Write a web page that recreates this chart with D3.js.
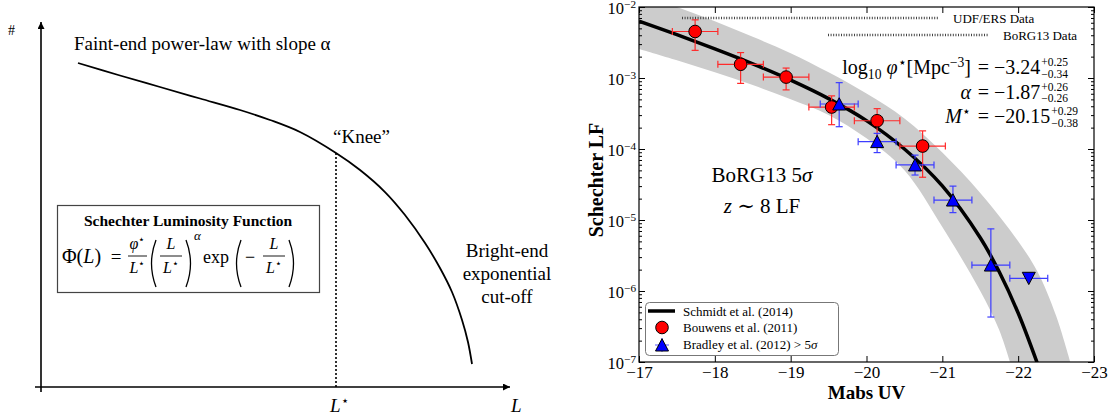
<!DOCTYPE html>
<html>
<head>
<meta charset="utf-8">
<script src="https://cdn.jsdelivr.net/npm/d3@7"></script>
<style>
body { margin: 0; background: #fff; }
svg { display: block; font-family: "Liberation Serif", "DejaVu Serif", serif; }
text { white-space: pre; }
</style>
</head>
<body>
<div id="chart"></div>
<script>
// ---- left sketch: hand-drawn Schechter shape, in 0-100 "units" on both axes
var sketchL = [7.89, 16.84, 25.37, 33.90, 42.43, 48.83, 55.22, 62.90, 68.02, 73.35, 77.61, 81.88, 85.07, 87.63, 89.77, 91.04, 91.90];
var sketchN = [88.77, 85.34, 82.19, 79.04, 75.89, 73.15, 69.86, 64.11, 59.45, 53.42, 47.12, 39.45, 32.60, 26.03, 18.36, 12.33, 6.30];
var kneeL = 62.90;
var kneeN = 64.11;

// ---- right plot: Schmidt et al. (2014) fit and its band (log10 phi)
var fitM = [-17, -17.5, -18, -18.5, -19, -19.5, -20, -20.5, -21, -21.5, -21.75, -22, -22.25];
var fitLogPhi = [-2.20, -2.39, -2.59, -2.80, -3.03, -3.29, -3.60, -4.00, -4.52, -5.25, -5.73, -6.31, -7.01];
var bandUpM = [-17, -17.5, -18, -18.5, -19, -19.5, -20, -20.5, -21, -21.5, -22, -22.25, -22.5, -22.7];
var bandUpLog = [-1.80, -2.00, -2.20, -2.42, -2.65, -2.92, -3.22, -3.57, -4.05, -4.62, -5.30, -5.72, -6.35, -7.05];
var bandLoM = [-17, -17.5, -18, -18.5, -19, -19.5, -20, -20.5, -21, -21.5, -21.75, -21.92];
var bandLoLog = [-2.59, -2.75, -2.92, -3.10, -3.30, -3.52, -3.85, -4.30, -5.10, -6.00, -6.55, -7.10];

// Bouwens et al. (2011)
var bouwensM = [-17.74, -18.34, -18.94, -19.54, -20.14, -20.74];
var bouwensPhi = [4.52e-3, 1.56e-3, 1.03e-3, 3.9e-4, 2.5e-4, 1.1e-4];
var bouwensErr = [2.07e-3, 0.72e-3, 0.35e-3, 1.7e-4, 1.2e-4, 0.7e-4];
var bouwensMErr = 0.3;

// Bradley et al. (2012)
var bradleyM = [-19.64, -20.14, -20.64, -21.14, -21.64];
var bradleyPhi = [4.3e-4, 1.27e-4, 5.96e-5, 1.91e-5, 2.32e-6];
var bradleyHi = [8.6e-4, 1.66e-4, 8.2e-5, 3.0e-5, 7.5e-6];
var bradleyLo = [2.06e-4, 8.9e-5, 4.3e-5, 1.27e-5, 4.3e-7];
var bradleyLimM = [-22.14];
var bradleyLimPhi = [1.51e-6];
var bradleyMErr = 0.25;

var xTicks = [-17, -18, -19, -20, -21, -22, -23];
var yTicks = [1e-7, 1e-6, 1e-5, 1e-4, 1e-3, 1e-2];

var W = 1113, H = 416;
var svg = d3.select("#chart").append("svg").attr("width", W).attr("height", H);
var defs = svg.append("defs");

defs.append("marker").attr("id", "arr")
    .attr("viewBox", "0 0 10 10").attr("refX", 10).attr("refY", 5)
    .attr("markerWidth", 9).attr("markerHeight", 7)
    .attr("markerUnits", "userSpaceOnUse").attr("orient", "auto")
    .append("path").attr("d", "M0,0 L10,5 L0,10 z").attr("fill", "#000");

// helper for text with italic / sup / sub pieces
function mathText(g, x, y, parts, size, anchor) {
    var t = g.append("text").attr("x", x).attr("y", y)
        .attr("font-size", size).attr("text-anchor", anchor || "start");
    var shift = 0;
    parts.forEach(function (p) {
        var s = t.append("tspan").text(p.t);
        var target = p.sup ? -0.36 * size : p.sub ? 0.25 * size : 0;
        if (target !== shift) { s.attr("dy", target - shift); shift = target; }
        if (p.sup || p.sub) s.attr("font-size", size * 0.68);
        if (p.i) s.attr("font-style", "italic");
    });
    return t;
}

// ================= LEFT PANEL =================
var xs = d3.scaleLinear().domain([0, 100]).range([41, 510]);
var ys = d3.scaleLinear().domain([0, 100]).range([387, 22]);
var left = svg.append("g");

left.append("line").attr("x1", xs(0)).attr("y1", 392).attr("x2", xs(0)).attr("y2", ys(100))
    .attr("stroke", "#000").attr("stroke-width", 1.6).attr("marker-end", "url(#arr)");
left.append("line").attr("x1", 35).attr("y1", ys(0)).attr("x2", xs(100)).attr("y2", ys(0))
    .attr("stroke", "#000").attr("stroke-width", 1.6).attr("marker-end", "url(#arr)");

var sketch = d3.line()
    .x(function (d) { return xs(d[0]); })
    .y(function (d) { return ys(d[1]); })
    .curve(d3.curveCatmullRom);
left.append("path").datum(d3.zip(sketchL, sketchN))
    .attr("d", sketch).attr("fill", "none").attr("stroke", "#000").attr("stroke-width", 1.8);

left.append("line").attr("x1", xs(kneeL)).attr("x2", xs(kneeL))
    .attr("y1", ys(kneeN)).attr("y2", ys(0))
    .attr("stroke", "#000").attr("stroke-width", 1.6).attr("stroke-dasharray", "2,2");

left.append("text").attr("x", 8).attr("y", 35).attr("font-size", 14).text("#");
mathText(left, 74, 50, [{ t: "Faint-end power-law with slope α" }], 19);
left.append("text").attr("x", 333).attr("y", 143).attr("font-size", 19).text("\u201cKnee\u201d");
mathText(left, 330, 412, [{ t: "L", i: 1 }, { t: "⋆", sup: 1 }], 19);
mathText(left, 511, 412, [{ t: "L", i: 1 }], 19);
["Bright-end", "exponential", "cut-off"].forEach(function (s, i) {
    left.append("text").attr("x", 507).attr("y", 257 + i * 23)
        .attr("font-size", 19).attr("text-anchor", "middle").text(s);
});

// formula box
left.append("rect").attr("x", 57.5).attr("y", 205.5).attr("width", 262).attr("height", 87)
    .attr("fill", "#fff").attr("stroke", "#444").attr("stroke-width", 1.2);
left.append("text").attr("x", 188).attr("y", 226).attr("font-size", 15.5)
    .attr("font-weight", "bold").attr("text-anchor", "middle").text("Schechter Luminosity Function");

mathText(left, 62, 263, [{ t: "Φ(" }, { t: "L", i: 1 }, { t: ")" }], 20);
left.append("text").attr("x", 116).attr("y", 263).attr("font-size", 19)
    .attr("text-anchor", "middle").text("=");
function frac(cx, x0, x1, num, den) {
    mathText(left, cx, 249, num, 16, "middle");
    left.append("line").attr("x1", x0).attr("x2", x1).attr("y1", 256).attr("y2", 256)
        .attr("stroke", "#000").attr("stroke-width", 0.9);
    mathText(left, cx, 273, den, 16, "middle");
}
var Lstar = [{ t: "L", i: 1 }, { t: "⋆", sup: 1 }];
frac(137.5, 128, 147, [{ t: "φ", i: 1 }, { t: "⋆", sup: 1 }], Lstar);
frac(171, 160, 182, [{ t: "L", i: 1 }], Lstar);
frac(274, 263, 285, [{ t: "L", i: 1 }], Lstar);
function paren(x, open) {
    var d = open ? "M" + (x + 6) + ",240 Q" + (x - 3) + ",263.5 " + (x + 6) + ",287"
                 : "M" + x + ",240 Q" + (x + 9) + ",263.5 " + x + ",287";
    left.append("path").attr("d", d).attr("fill", "none").attr("stroke", "#000").attr("stroke-width", 1.3);
}
paren(150, true); paren(186, false); paren(235, true); paren(289, false);
mathText(left, 194, 240, [{ t: "α", i: 1 }], 13);
mathText(left, 203, 263, [{ t: "exp" }], 18);
mathText(left, 245, 263, [{ t: "−" }], 18);

// ================= RIGHT PANEL =================
var x = d3.scaleLinear().domain([-17, -23]).range([639, 1094]);
var y = d3.scaleLog().domain([1e-7, 1e-2]).range([362, 7]);
var right = svg.append("g");

defs.append("clipPath").attr("id", "plotclip").append("rect")
    .attr("x", 639).attr("y", 7).attr("width", 455).attr("height", 355);
var plot = right.append("g").attr("clip-path", "url(#plotclip)");

var logLine = d3.line()
    .x(function (d) { return x(d[0]); })
    .y(function (d) { return y(Math.pow(10, d[1])); })
    .curve(d3.curveCatmullRom);

var upPath = logLine(d3.zip(bandUpM, bandUpLog));
var loPath = logLine(d3.zip(bandLoM, bandLoLog).reverse());
plot.append("path").attr("d", upPath + "L" + loPath.slice(1) + "Z")
    .attr("fill", "#cccccc").attr("stroke", "none");

plot.append("path").datum(d3.zip(fitM, fitLogPhi)).attr("d", logLine)
    .attr("fill", "none").attr("stroke", "#000").attr("stroke-width", 3.5);

function errBar(g, m, merr, phi, lo, hi) {
    var cy = y(phi), xl = x(m + merr), xr = x(m - merr);
    g.append("line").attr("x1", xl).attr("x2", xr).attr("y1", cy).attr("y2", cy);
    g.append("line").attr("x1", xl).attr("x2", xl).attr("y1", cy - 3.5).attr("y2", cy + 3.5);
    g.append("line").attr("x1", xr).attr("x2", xr).attr("y1", cy - 3.5).attr("y2", cy + 3.5);
    if (lo != null) {
        var cx = x(m), yt = y(hi), yb = y(lo);
        g.append("line").attr("x1", cx).attr("x2", cx).attr("y1", yt).attr("y2", yb);
        g.append("line").attr("x1", cx - 3.5).attr("x2", cx + 3.5).attr("y1", yt).attr("y2", yt);
        g.append("line").attr("x1", cx - 3.5).attr("x2", cx + 3.5).attr("y1", yb).attr("y2", yb);
    }
}

var redErr = plot.append("g").attr("stroke", "#ff2a2a").attr("stroke-width", 1.2);
bouwensM.forEach(function (m, i) {
    errBar(redErr, m, bouwensMErr, bouwensPhi[i], bouwensPhi[i] - bouwensErr[i], bouwensPhi[i] + bouwensErr[i]);
});
var blueErr = plot.append("g").attr("stroke", "#3d3dff").attr("stroke-width", 1.2);
bradleyM.forEach(function (m, i) {
    errBar(blueErr, m, bradleyMErr, bradleyPhi[i], bradleyLo[i], bradleyHi[i]);
});
bradleyLimM.forEach(function (m, i) {
    errBar(blueErr, m, bradleyMErr, bradleyLimPhi[i], null, null);
});

plot.selectAll(".bouwens").data(d3.zip(bouwensM, bouwensPhi)).enter().append("circle")
    .attr("cx", function (d) { return x(d[0]); })
    .attr("cy", function (d) { return y(d[1]); })
    .attr("r", 6.3).attr("fill", "#ff0000").attr("stroke", "#000").attr("stroke-width", 1);

var triUp = "M0,-6.3 L6.5,6 L-6.5,6 Z";
var triDown = "M0,6.3 L6.5,-6 L-6.5,-6 Z";
plot.selectAll(".bradley").data(d3.zip(bradleyM, bradleyPhi)).enter().append("path")
    .attr("d", triUp)
    .attr("transform", function (d) { return "translate(" + x(d[0]) + "," + y(d[1]) + ")"; })
    .attr("fill", "#0000ff").attr("stroke", "#000").attr("stroke-width", 1);
plot.selectAll(".limit").data(d3.zip(bradleyLimM, bradleyLimPhi)).enter().append("path")
    .attr("d", triDown)
    .attr("transform", function (d) { return "translate(" + x(d[0]) + "," + y(d[1]) + ")"; })
    .attr("fill", "#0000ff").attr("stroke", "#000").attr("stroke-width", 1);

// axes
function styleAxis(g) {
    g.select(".domain").remove();
    g.selectAll(".tick line").attr("stroke", "#000").attr("stroke-width", 1);
    g.selectAll("text").attr("font-family", "Liberation Serif, DejaVu Serif, serif").attr("fill", "#000");
}
var minorY = [];
yTicks.slice(0, -1).forEach(function (t) {
    for (var k = 2; k < 10; k++) minorY.push(t * k);
});

right.append("g").attr("transform", "translate(0,362)")
    .call(d3.axisBottom(x).tickValues(xTicks).tickSizeInner(-6).tickSizeOuter(0).tickPadding(4)
        .tickFormat(d3.format("d")))
    .call(styleAxis)
    .selectAll("text").attr("font-size", 17);
right.append("g").attr("transform", "translate(0,7)")
    .call(d3.axisTop(x).tickValues(xTicks).tickSizeInner(-6).tickSizeOuter(0).tickFormat(""))
    .call(styleAxis);
[[639, d3.axisLeft], [1094, d3.axisRight]].forEach(function (a) {
    right.append("g").attr("transform", "translate(" + a[0] + ",0)")
        .call(a[1](y).tickValues(yTicks).tickSizeInner(-6).tickSizeOuter(0).tickFormat(""))
        .call(styleAxis);
    right.append("g").attr("transform", "translate(" + a[0] + ",0)")
        .call(a[1](y).tickValues(minorY).tickSizeInner(-3).tickSizeOuter(0).tickFormat(""))
        .call(styleAxis);
});
right.append("rect").attr("x", 639).attr("y", 7).attr("width", 455).attr("height", 355)
    .attr("fill", "none").attr("stroke", "#000").attr("stroke-width", 1.2);

yTicks.forEach(function (t) {
    var e = Math.round(Math.log10(t));
    mathText(right, 636, y(t) + 6.5, [{ t: "10" }, { t: "−" + Math.abs(e), sup: 1 }], 16.5, "end");
});

right.append("text").attr("transform", "translate(603,180) rotate(-90)")
    .attr("text-anchor", "middle").attr("font-size", 20).attr("font-weight", "bold").text("Schechter LF");
right.append("text").attr("x", 866.5).attr("y", 399).attr("text-anchor", "middle")
    .attr("font-size", 19).attr("font-weight", "bold").text("Mabs UV");

// dotted data-range markers
right.append("line").attr("x1", 682).attr("x2", 938).attr("y1", 18).attr("y2", 18)
    .attr("stroke", "#444").attr("stroke-width", 2.6).attr("stroke-dasharray", "1,1.6");
right.append("text").attr("x", 953).attr("y", 22.5).attr("font-size", 13).text("UDF/ERS Data");
right.append("line").attr("x1", 828).attr("x2", 988).attr("y1", 35).attr("y2", 35)
    .attr("stroke", "#444").attr("stroke-width", 2.6).attr("stroke-dasharray", "1,1.6");
right.append("text").attr("x", 1003).attr("y", 39.5).attr("font-size", 13).text("BoRG13 Data");

// fit parameters
var paramLabels = [
    [{ t: "log" }, { t: "10", sub: 1 }, { t: " " }, { t: "φ", i: 1 }, { t: "⋆", sup: 1 }, { t: "[Mpc" }, { t: "−3", sup: 1 }, { t: "]" }],
    [{ t: "α", i: 1 }],
    [{ t: "M", i: 1 }, { t: "⋆", sup: 1 }]
];
var paramValues = ["−3.24", "−1.87", "−20.15"];
var paramUp = ["+0.25", "+0.26", "+0.29"];
var paramDown = ["−0.34", "−0.26", "−0.38"];
var paramBase = [74, 98.5, 123];
paramLabels.forEach(function (lhs, i) {
    var yb = paramBase[i];
    mathText(right, 971, yb, lhs, 20, "end");
    right.append("text").attr("x", 983.5).attr("y", yb).attr("font-size", 20)
        .attr("text-anchor", "middle").text("=");
    var v = right.append("text").attr("x", 994).attr("y", yb).attr("font-size", 20).text(paramValues[i]);
    var xe = 994 + v.node().getComputedTextLength() + 1;
    right.append("text").attr("x", xe).attr("y", yb - 8).attr("font-size", 11.5).text(paramUp[i]);
    right.append("text").attr("x", xe).attr("y", yb + 3.5).attr("font-size", 11.5).text(paramDown[i]);
});

mathText(right, 762, 182, [{ t: "BoRG13 5" }, { t: "σ", i: 1 }], 21, "middle");
mathText(right, 762, 213, [{ t: "z", i: 1 }, { t: " ∼ 8 LF" }], 21, "middle");

// legend
var lg = right.append("g");
lg.append("rect").attr("x", 645.5).attr("y", 302.5).attr("width", 193).attr("height", 53).attr("rx", 4)
    .attr("fill", "#fff").attr("stroke", "#777").attr("stroke-width", 1);
lg.append("line").attr("x1", 648).attr("x2", 675).attr("y1", 311).attr("y2", 311)
    .attr("stroke", "#000").attr("stroke-width", 3.5);
var lr = lg.append("g").attr("stroke", "#ff2a2a").attr("stroke-width", 1.2).attr("opacity", 0.5);
lr.append("line").attr("x1", 656).attr("x2", 668).attr("y1", 327.5).attr("y2", 327.5);
lr.append("line").attr("x1", 662).attr("x2", 662).attr("y1", 321.5).attr("y2", 333.5);
lg.append("circle").attr("cx", 662).attr("cy", 327.5).attr("r", 6.3)
    .attr("fill", "#ff0000").attr("stroke", "#000").attr("stroke-width", 1);
var lb = lg.append("g").attr("stroke", "#3d3dff").attr("stroke-width", 1.2).attr("opacity", 0.7);
lb.append("line").attr("x1", 655).attr("x2", 669).attr("y1", 345).attr("y2", 345);
lb.append("line").attr("x1", 662).attr("x2", 662).attr("y1", 338).attr("y2", 352);
lg.append("path").attr("d", triUp).attr("transform", "translate(662,345)")
    .attr("fill", "#0000ff").attr("stroke", "#000").attr("stroke-width", 1);
lg.append("text").attr("x", 683).attr("y", 315.5).attr("font-size", 13).text("Schmidt et al. (2014)");
lg.append("text").attr("x", 683).attr("y", 332).attr("font-size", 13).text("Bouwens et al. (2011)");
mathText(lg, 683, 349, [{ t: "Bradley et al. (2012) > 5" }, { t: "σ", i: 1 }], 13);
</script>
</body>
</html>
